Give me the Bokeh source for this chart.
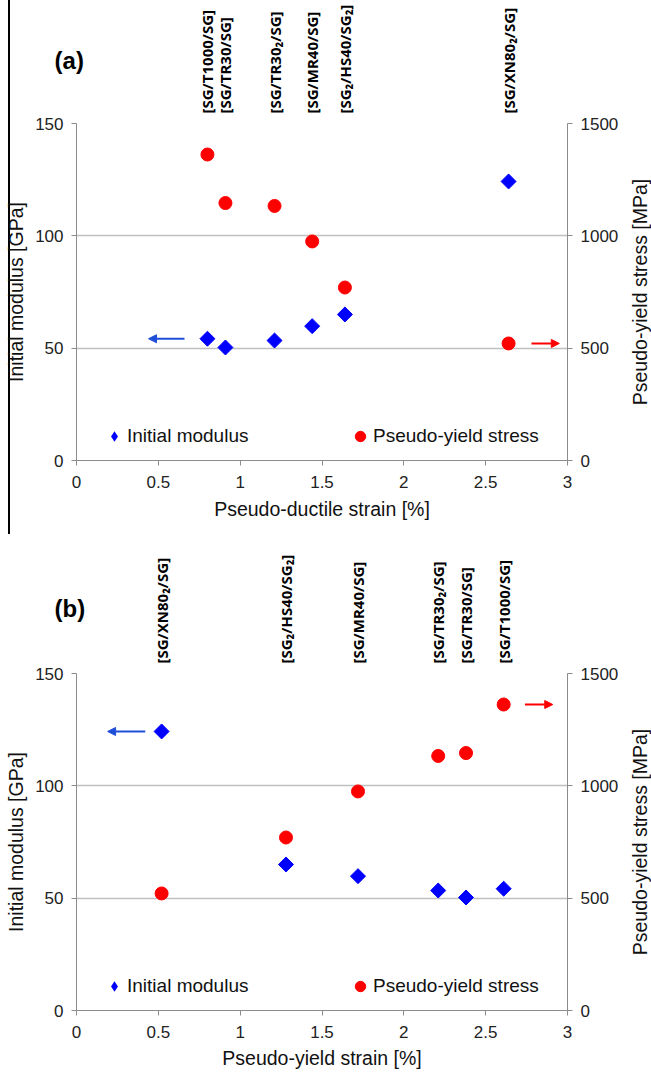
import math
from bokeh.plotting import figure
from bokeh.models import (Range1d, LinearAxis, FixedTicker, NumeralTickFormatter,
                          Arrow, NormalHead, Legend, LegendItem)
from bokeh.layouts import column, row
from bokeh.embed import file_html
from bokeh.resources import INLINE
from bokeh.core.properties import value

# ---------------- data ----------------
panel_tags = ["(a)", "(b)"]
hybrid_names = ["[SG/T1000/SG]", "[SG/TR30/SG]", "[SG/TR30\u2082/SG]", "[SG/MR40/SG]",
                "[SG\u2082/HS40/SG\u2082]", "[SG/XN80\u2082/SG]"]
initial_modulus = [54.2, 50.3, 53.4, 59.8, 65.0, 124.2]      # GPa
yield_stress = [1362, 1146, 1133, 975, 770, 521]              # MPa
ductile_strain = [0.80, 0.91, 1.21, 1.44, 1.64, 2.64]         # %  (panel a)
yield_strain = [2.61, 2.38, 2.21, 1.72, 1.28, 0.52]           # %  (panel b)
x_titles = ["Pseudo-ductile strain [%]", "Pseudo-yield strain [%]"]
y_title_left = "Initial modulus [GPa]"
y_title_right = "Pseudo-yield stress [MPa]"
series_names = ["Initial modulus", "Pseudo-yield stress"]
x_ticks = [0, 0.5, 1, 1.5, 2, 2.5, 3]
mod_ticks = [0, 50, 100, 150]
stress_ticks = [0, 500, 1000, 1500]
# axis-pointer arrows: (series, index of point they sit beside, tail offset, head offset)
arrows_a = [("mod", 0, -0.14, -0.36), ("stress", 5, 0.14, 0.31)]
arrows_b = [("mod", 5, -0.10, -0.33), ("stress", 0, 0.13, 0.30)]

# ---------------- layout / style constants ----------------
W = 651
RLAB_W = 24                        # strip holding the right axis title
MAIN_W = W - RLAB_W
FRAME_L, FRAME_W, FRAME_H = 76, 491, 337
PX = FRAME_W / 3.0                 # pixels per x unit
TAG_X = -0.134                     # tag position left of the frame (x units)
BLUE = "#0000ff"
RED = "#ff0000"
ARROW_BLUE = "#1f4fd8"
AXIS_GREY = "#8c8c8c"
GRID_GREY = "#c0c0c0"
FONT = "Liberation Sans"


def no_frame_align(fig):
    try:
        fig.frame_align = False
    except Exception:
        pass


def bare_figure(width, height, x_range, y_range):
    f = figure(width=width, height=height, x_range=x_range, y_range=y_range,
               x_axis_location=None, y_axis_location=None,
               output_backend="svg", toolbar_location=None,
               min_border_left=0, min_border_right=0, min_border_top=0, min_border_bottom=0)
    no_frame_align(f)
    f.grid.visible = False
    f.outline_line_color = None
    f.background_fill_alpha = 0
    f.border_fill_alpha = 0
    return f


def style_axis(ax, label_standoff, axis_standoff):
    ax.axis_line_color = AXIS_GREY
    ax.major_tick_line_color = AXIS_GREY
    ax.major_tick_in = 0
    ax.major_tick_out = 5
    ax.minor_tick_line_color = None
    ax.major_label_text_font = FONT
    ax.major_label_text_font_size = "17px"
    ax.major_label_text_color = "#222222"
    ax.major_label_standoff = label_standoff
    ax.axis_label_text_font = FONT
    ax.axis_label_text_font_size = "19.5px"
    ax.axis_label_text_font_style = "normal"
    ax.axis_label_text_color = "#111111"
    ax.axis_label_standoff = axis_standoff


def make_strip(tag, xs, height, tag_top):
    s = bare_figure(W, height,
                    Range1d(-FRAME_L / PX, 3 + (W - FRAME_L - FRAME_W) / PX),
                    Range1d(0, height))
    s.text(x=xs, y=[0] * len(xs), text=hybrid_names, angle=math.pi / 2,
           text_align="left", text_baseline="middle",
           text_font=value("Open Sans"), text_font_style="bold",
           text_font_size="15px", text_color="#000000")
    s.text(x=[TAG_X], y=[height - tag_top], text=[tag],
           text_align="left", text_baseline="top",
           text_font=value(FONT), text_font_style="bold",
           text_font_size="24px", text_color="#000000")
    return s


def make_right_title(height, border_bottom):
    f = bare_figure(RLAB_W, height, Range1d(0, 1), Range1d(0, height))
    f.text(x=[0.5], y=[border_bottom + FRAME_H / 2.0], text=[y_title_right],
           angle=math.pi / 2, text_align="center", text_baseline="middle",
           text_font=value(FONT), text_font_size="19.5px", text_color="#111111")
    return f


def make_panel(xs, xtitle, arrows, border_bottom, xlab_standoff):
    p = figure(width=MAIN_W, height=10 + FRAME_H + border_bottom,
               x_range=Range1d(0, 3), y_range=Range1d(0, 150),
               output_backend="svg", toolbar_location=None,
               min_border_left=FRAME_L, min_border_right=MAIN_W - FRAME_L - FRAME_W,
               min_border_top=10, min_border_bottom=border_bottom)
    no_frame_align(p)
    p.outline_line_color = None
    p.background_fill_color = "white"
    p.border_fill_alpha = 0
    p.extra_y_ranges = {"stress": Range1d(0, 1500)}

    p.xgrid.visible = False
    p.ygrid.ticker = FixedTicker(ticks=mod_ticks)
    p.ygrid.grid_line_color = GRID_GREY
    p.ygrid.grid_line_width = 1.3

    p.xaxis.ticker = FixedTicker(ticks=x_ticks)
    p.xaxis.formatter = NumeralTickFormatter(format="0.[0]")
    p.xaxis.axis_label = xtitle
    style_axis(p.xaxis[0], 10, xlab_standoff)

    p.yaxis.ticker = FixedTicker(ticks=mod_ticks)
    p.yaxis.axis_label = y_title_left
    style_axis(p.yaxis[0], 8, 5)

    rax = LinearAxis(y_range_name="stress", ticker=FixedTicker(ticks=stress_ticks))
    style_axis(rax, 8, 3)
    p.add_layout(rax, "right")

    p.scatter(xs, initial_modulus, marker="square", angle=math.pi / 4, size=10.6,
              fill_color=BLUE, line_color=BLUE)
    r_str = p.scatter(xs, yield_stress, y_range_name="stress", marker="circle", size=13,
                      fill_color=RED, line_color=RED)
    # legend swatch for the modulus series (diamond shape; zero size in the plot)
    r_mod_leg = p.scatter(xs, initial_modulus, marker="diamond", size=0,
                          fill_color=BLUE, line_color=None)

    for loc, r, name in [((25, 11), r_mod_leg, series_names[0]),
                         ((271, 11), r_str, series_names[1])]:
        leg = Legend(items=[LegendItem(label=name, renderers=[r])], location=loc,
                     orientation="horizontal", glyph_width=26, glyph_height=26,
                     label_standoff=0, padding=0, margin=0, border_line_color=None,
                     background_fill_alpha=0, label_text_font=FONT,
                     label_text_font_size="19px", label_text_color="#111111")
        p.add_layout(leg)

    for series, idx, tail, head in arrows:
        if series == "mod":
            yv, col, rng = initial_modulus[idx], ARROW_BLUE, "default"
        else:
            yv, col, rng = yield_stress[idx], RED, "stress"
        arr = Arrow(x_start=xs[idx] + tail, y_start=yv, x_end=xs[idx] + head, y_end=yv,
                    line_color=col, line_width=2, y_range_name=rng,
                    end=NormalHead(size=8, fill_color=col, line_color=col))
        p.add_layout(arr)
    return row(p, make_right_title(10 + FRAME_H + border_bottom, border_bottom), spacing=0)


strip_a = make_strip(panel_tags[0], ductile_strain, 113, 46)
main_a = make_panel(ductile_strain, x_titles[0], arrows_a, 74, 7)
strip_b = make_strip(panel_tags[1], yield_strain, 129, 60)
main_b = make_panel(yield_strain, x_titles[1], arrows_b, 62, 6)

col_a = column(strip_a, main_a, spacing=0,
               styles={"background": "linear-gradient(to right, rgba(0,0,0,0) 0px, "
                                     "rgba(0,0,0,0) 8px, #000000 8px, #000000 10px, "
                                     "rgba(0,0,0,0) 10px, rgba(0,0,0,0) 100%)"})
layout = column(col_a, strip_b, main_b, spacing=0)
open("out.html", "w").write(file_html(layout, INLINE))
